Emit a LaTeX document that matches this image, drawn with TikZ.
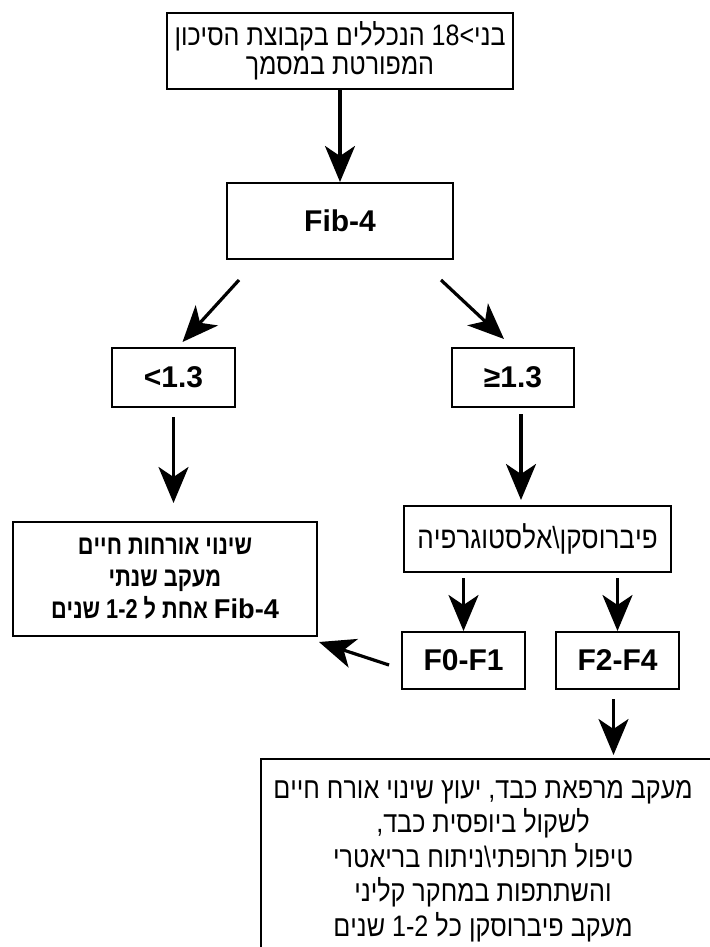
\documentclass[tikz,border=0pt]{standalone}
\usepackage{fontspec}
\setmainfont{Liberation Sans}
\newfontfamily\hebfont[FakeStretch=0.85]{Liberation Sans}
\newfontfamily\hebnarrow[FakeStretch=0.8]{Liberation Sans}
\TeXXeTstate=1
\usetikzlibrary{arrows.meta,positioning,calc}
\tikzstyle{arrow} = [line width=1.6pt,-{Stealth[length=18pt,width=15pt,inset=5pt]}]
\tikzstyle{flowbox} = [rectangle, draw, line width=1pt, align=center, inner sep=0pt, font=\hebfont\fontsize{14.75}{14.5}\selectfont]
\tikzstyle{labelbox} = [flowbox, font=\rmfamily\bfseries\fontsize{15}{15}\selectfont]

\begin{document}
\begin{tikzpicture}[x=0.5pt,y=-0.5pt]
\useasboundingbox[fill=white] (0,0) rectangle (710,947);
% Boxes
\node[flowbox, minimum width=173pt, minimum height=38pt] (group) at (340,51) {\beginR בני>18 הנכללים בקבוצת הסיכון\endR\\\beginR המפורטת במסמך\endR};
\node[labelbox, minimum width=113pt, minimum height=38pt, below=46pt of group] (fib) {Fib-4};
\node[labelbox, minimum width=61.5pt, minimum height=29.5pt] (low) at (173.5,377.5) {<1.3};
\node[labelbox, minimum width=61pt, minimum height=29.5pt] (high) at (513,377.5) {≥1.3};
\node[flowbox, minimum width=133.5pt, minimum height=33pt, font=\hebfont\fontsize{15.3}{15}\selectfont] (elasto) at (537.5,539) {\beginR פיברוסקן\textbackslash אלסטוגרפיה\endR};
\node[flowbox, minimum width=152pt, minimum height=57pt, font=\hebnarrow\bfseries\fontsize{13.6}{16}\selectfont] (life) at (165,579) {\beginR שינוי אורחות חיים\endR\\\beginR מעקב שנתי\endR\\\beginR {\rmfamily Fib-4} אחת ל 1-2 שנים\endR};
\node[labelbox, minimum width=61.5pt, minimum height=28.5pt] (mild) at (463.5,660.5) {F0-F1};
\node[labelbox, minimum width=61.5pt, minimum height=28.5pt] (severe) at (617.5,660.5) {F2-F4};
\node[flowbox, minimum width=239.5pt, minimum height=110.5pt] (care) at (500.5,869.5) {};
\node[font=\hebfont\fontsize{14.8}{17.25}\selectfont, align=center] (caretext) at (483,861) {\beginR מעקב מרפאת כבד, יעוץ שינוי אורח חיים\endR\\\beginR לשקול ביופסית כבד,\endR\\\beginR טיפול תרופתי\textbackslash ניתוח בריאטרי\endR\\\beginR והשתתפות במחקר קליני\endR\\\beginR מעקב פיברוסקן כל 1-2 שנים\endR};
% Arrows
\draw[arrow] (group) -- (fib);
\draw[arrow] ($(fib.south west)+(13,20)$) -- ($(low.north)+(9,-5)$);
\draw[arrow] ($(fib.south east)+(-13,20)$) -- ($(high.north)+(-9,-8)$);
\draw[arrow, shorten <=4.5pt, shorten >=9pt] (low.south) -- (low.south |- life.north);
\draw[arrow, shorten <=3pt, shorten >=2.5pt] ([xshift=4pt]high.south) -- ([xshift=4pt]high.south |- elasto.north);
\draw[arrow, shorten <=2.5pt] (mild.north |- elasto.south) -- (mild.north);
\draw[arrow, shorten <=2.5pt] (severe.north |- elasto.south) -- (severe.north);
\draw[arrow] ($(mild.west)+(-12,4.5)$) -- ($(life.south east)+(1,5)$);
\draw[arrow, shorten <=4.5pt, shorten >=1.5pt] ([xshift=-2pt]severe.south) -- ([xshift=-2pt]severe.south |- care.north);
\end{tikzpicture}
\end{document}
